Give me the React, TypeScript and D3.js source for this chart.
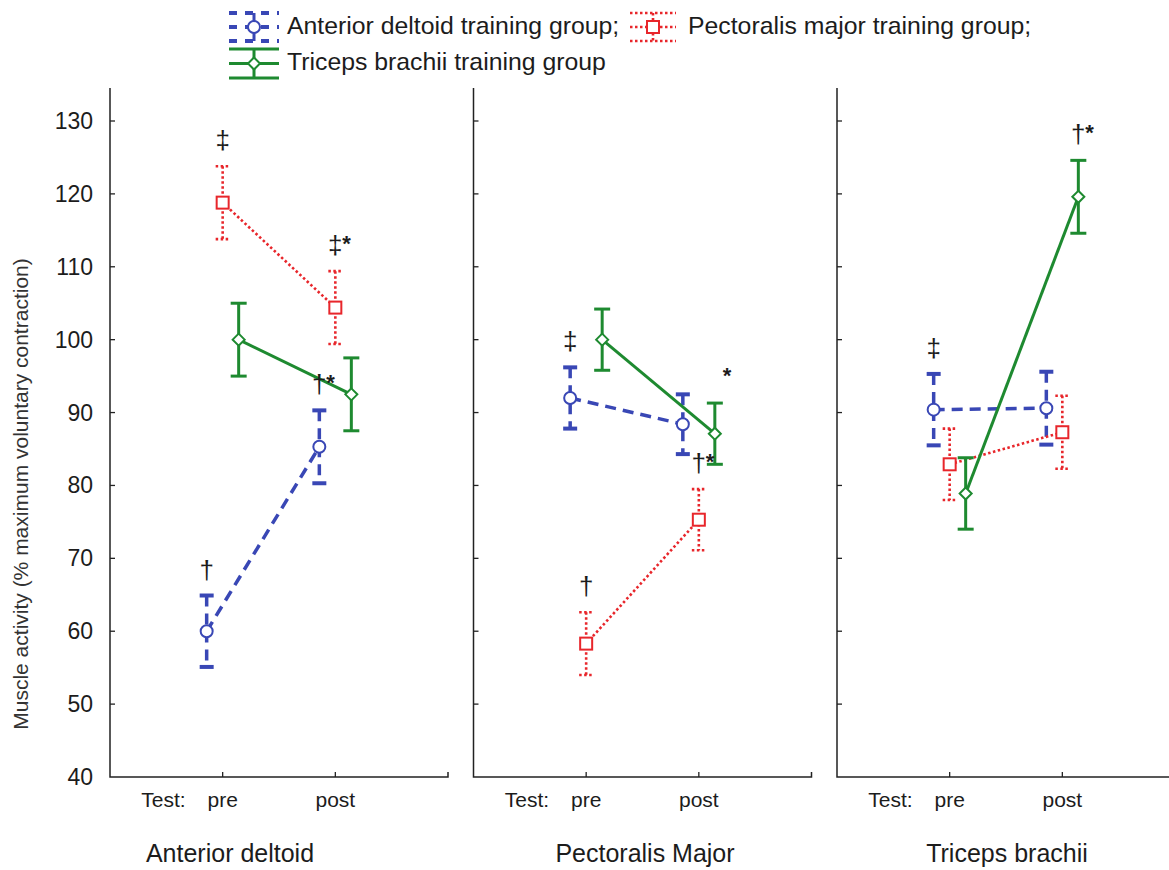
import React from 'react';
import * as d3 from 'd3';

// chart values
const muscles = ['Anterior deltoid', 'Pectoralis Major', 'Triceps brachii'];
const tests = ['pre', 'post'];
const groupKeys = ['AD', 'PM', 'TB'];
const groupLabels = [
    'Anterior deltoid training group;',
    'Pectoralis major training group;',
    'Triceps brachii training group',
];
const yTicks = [40, 50, 60, 70, 80, 90, 100, 110, 120, 130];

// [muscle][test] means and half error bars
const adMean = [[60.0, 85.3], [92.0, 88.4], [90.4, 90.6]];
const adErr = [[4.9, 5.0], [4.2, 4.1], [4.9, 5.0]];
const pmMean = [[118.8, 104.4], [58.3, 75.3], [82.9, 87.3]];
const pmErr = [[5.0, 5.0], [4.3, 4.2], [4.9, 5.0]];
const tbMean = [[100.0, 92.5], [100.0, 87.1], [78.9, 119.6]];
const tbErr = [[5.0, 5.0], [4.2, 4.2], [4.9, 5.0]];

// significance marks: [muscle, group, test, mark]
const marks: [number, string, number, string][] = [
    [0, 'PM', 0, '‡'], [0, 'PM', 1, '‡*'], [0, 'AD', 0, '†'], [0, 'AD', 1, '†*'],
    [1, 'AD', 0, '‡'], [1, 'TB', 1, '*'], [1, 'PM', 1, '†*'], [1, 'PM', 0, '†'],
    [2, 'AD', 0, '‡'], [2, 'TB', 1, '†*'],
];

const means: Record<string, number[][]> = { AD: adMean, PM: pmMean, TB: tbMean };
const errs: Record<string, number[][]> = { AD: adErr, PM: pmErr, TB: tbErr };

const styles: Record<string, { color: string; dash: string; width: number; cap: number }> = {
    AD: { color: '#3947b5', dash: '11,7', width: 3.5, cap: 14 },
    PM: { color: '#e8262b', dash: '2.5,2.5', width: 2.6, cap: 14 },
    TB: { color: '#1e8a30', dash: 'none', width: 3, cap: 16 },
};

const font = '"Liberation Sans", Arial, sans-serif';
const ink = '#1c1c1c';

function Marker({ g, x, y }: { g: string; x: number; y: number }) {
    const s = styles[g];
    if (g === 'AD') return <circle cx={x} cy={y} r={6} fill="#fff" stroke={s.color} strokeWidth={2} />;
    if (g === 'PM') return <rect x={x - 6} y={y - 6} width={12} height={12} fill="#fff" stroke={s.color} strokeWidth={2} />;
    return <path d={`M${x},${y - 6}L${x + 6},${y}L${x},${y + 6}L${x - 6},${y}Z`} fill="#fff" stroke={s.color} strokeWidth={2} />;
}

function ErrBar({ g, x, y0, y1 }: { g: string; x: number; y0: number; y1: number }) {
    const s = styles[g];
    const capW = g === 'AD' ? 4 : s.width;
    return (
        <g stroke={s.color} fill="none">
            <line x1={x} x2={x} y1={y0} y2={y1} strokeWidth={s.width} strokeDasharray={s.dash} />
            <line x1={x - s.cap / 2} x2={x + s.cap / 2} y1={y0} y2={y0} strokeWidth={capW} strokeDasharray={g === 'PM' ? s.dash : 'none'} />
            <line x1={x - s.cap / 2} x2={x + s.cap / 2} y1={y1} y2={y1} strokeWidth={capW} strokeDasharray={g === 'PM' ? s.dash : 'none'} />
        </g>
    );
}

export default function App() {
    const width = 1169, height = 870;
    const axisTop = 88, axisBottom = 777;
    const panelW = 338;

    const y = d3.scaleLinear().domain([40, 130]).range([axisBottom, 121]);
    const panelX = d3.scaleLinear().domain([0, 2]).range([110, 837]);
    const offset = d3.scalePoint().domain(groupKeys).range([-16, 16]);
    const xIn = (m: number) => d3.scaleLinear().domain([0, 3]).range([panelX(m), panelX(m) + panelW]);
    const xPos = (m: number, t: number, g: string) => xIn(m)(t + 1) + (offset(g) as number);

    const titleX = [230, 645, 1007];

    return (
        <svg width={width} height={height} style={{ position: 'absolute', left: 0, top: 0, background: '#fff' }} fontFamily={font}>
            {/* legend */}
            {groupKeys.map((g, i) => {
                const s = styles[g];
                const lx = i === 1 ? 630 : 229;
                const lw = i === 1 ? 46 : 50;
                const top = i === 2 ? 49 : 13;
                const bot = i === 2 ? 78 : 41;
                const mid = (top + bot) / 2;
                const cx = lx + lw / 2;
                return (
                    <g key={g}>
                        {[top, mid, bot].map((ly, k) => (
                            <line key={k} x1={lx} x2={lx + lw} y1={ly} y2={ly} stroke={s.color} strokeWidth={g === 'AD' ? 4 : s.width}
                                strokeDasharray={g === 'AD' ? '8,8' : s.dash} />
                        ))}
                        <line x1={cx} x2={cx} y1={top} y2={bot} stroke={s.color} strokeWidth={g === 'PM' ? 2.6 : 3} strokeDasharray={g === 'PM' ? s.dash : 'none'} />
                        <Marker g={g} x={cx} y={mid} />
                        <text x={i === 1 ? 688 : 287} y={i === 2 ? 70 : 34} fontSize={24.8} fill={ink}>{groupLabels[i]}</text>
                    </g>
                );
            })}

            {/* y axis title */}
            <text transform={`translate(28,${494}) rotate(-90)`} textAnchor="middle" fontSize={21} fill="#333">
                Muscle activity (% maximum voluntary contraction)
            </text>

            {/* y tick labels */}
            {yTicks.map(t => (
                <text key={t} x={93} y={y(t)} dy="0.35em" textAnchor="end" fontSize={23} fill={ink}>{t}</text>
            ))}

            {muscles.map((m, mi) => {
                const x0 = panelX(mi);
                const xs = xIn(mi);
                return (
                    <g key={m}>
                        {/* axes */}
                        <path d={`M${x0},${axisTop}V${axisBottom}H${x0 + panelW}V${axisBottom - 5}`} fill="none" stroke="#222" strokeWidth={1.5} />
                        {yTicks.filter(t => t > 40).map(t => (
                            <line key={t} x1={x0} x2={x0 + 5} y1={y(t)} y2={y(t)} stroke="#222" strokeWidth={1.3} />
                        ))}
                        {tests.map((t, ti) => (
                            <g key={t}>
                                <line x1={xs(ti + 1)} x2={xs(ti + 1)} y1={axisBottom} y2={axisBottom - 5} stroke="#222" strokeWidth={1.3} />
                                <text x={xs(ti + 1)} y={807} textAnchor="middle" fontSize={21} fill={ink}>{t}</text>
                            </g>
                        ))}
                        <text x={xs(1) - 37} y={807} textAnchor="end" fontSize={21} fill={ink}>Test:</text>
                        <text x={titleX[mi]} y={862} textAnchor="middle" fontSize={25} fill={ink}>{m}</text>

                        {/* series */}
                        {groupKeys.map(g => {
                            const s = styles[g];
                            const pts = tests.map((_, ti) => [xPos(mi, ti, g), y(means[g][mi][ti])] as [number, number]);
                            return (
                                <g key={g}>
                                    <path d={d3.line()(pts) as string} fill="none" stroke={s.color} strokeWidth={s.width} strokeDasharray={s.dash} />
                                    {tests.map((_, ti) => (
                                        <ErrBar key={ti} g={g} x={xPos(mi, ti, g)}
                                            y0={y(means[g][mi][ti] + errs[g][mi][ti])}
                                            y1={y(means[g][mi][ti] - errs[g][mi][ti])} />
                                    ))}
                                    {tests.map((_, ti) => (
                                        <Marker key={ti} g={g} x={xPos(mi, ti, g)} y={y(means[g][mi][ti])} />
                                    ))}
                                </g>
                            );
                        })}
                    </g>
                );
            })}

            {/* significance marks */}
            {marks.map(([mi, g, ti, mk], i) => {
                const cx = xPos(mi, ti, g);
                const cy = y(means[g][mi][ti] + errs[g][mi][ti]) - 17;
                const dag = mk.replace('*', '');
                const star = mk.includes('*');
                return (
                    <g key={i} fill={ink}>
                        {dag && <text x={cx} y={cy} textAnchor="middle" fontSize={26}>{dag}</text>}
                        {star && <text x={dag ? cx + 7 : cx + 8} y={cy - 3} fontSize={22} fontWeight="bold">*</text>}
                    </g>
                );
            })}
        </svg>
    );
}
